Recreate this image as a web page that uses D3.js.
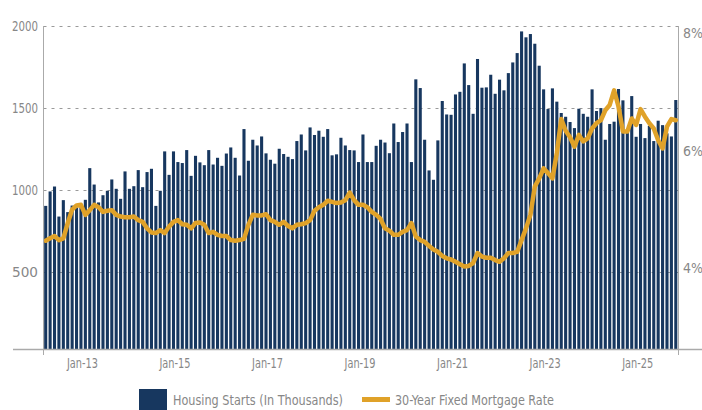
<!DOCTYPE html>
<html>
<head>
<meta charset="utf-8">
<script src="https://cdnjs.cloudflare.com/ajax/libs/d3/7.8.5/d3.min.js"></script>
<style>
    body { margin: 0; background: #fff; }
    svg text { font-family: "DejaVu Sans Condensed", "Roboto", sans-serif; fill: #878787; font-size: 14px; }
</style>
</head>
<body>
<svg id="chart" width="702" height="410"></svg>
<script>
    // housing starts, thousands (one value per bar)
    var housingStarts = [
        904, 992, 1022, 839, 939, 866, 906, 894, 896, 941, 1134, 1034, 925, 969, 996, 1065, 1008, 947, 1114, 1008, 1024, 1122, 1018, 1110,
        1130, 904, 996, 1236, 1093, 1236, 1171, 1165, 1244, 1087, 1209, 1169, 1152, 1244, 1156, 1197, 1148, 1223, 1260, 1197, 1089, 1372, 1179, 1307,
        1272, 1327, 1224, 1185, 1161, 1252, 1220, 1203, 1189, 1299, 1339, 1242, 1382, 1336, 1362, 1325, 1372, 1212, 1218, 1319, 1272, 1244, 1242, 1171,
        1339, 1171, 1171, 1270, 1307, 1290, 1225, 1406, 1293, 1354, 1406, 1171, 1675, 1622, 1307, 1120, 1063, 1303, 1543, 1461, 1459, 1583, 1599, 1772,
        1640, 1465, 1799, 1624, 1626, 1703, 1587, 1673, 1608, 1713, 1778, 1835, 1967, 1931, 1951, 1892, 1758, 1614, 1494, 1620, 1539, 1470, 1447, 1415,
        1378, 1496, 1465, 1447, 1614, 1482, 1500, 1307, 1403, 1417, 1616, 1547, 1352, 1573, 1325, 1403, 1317, 1392, 1299, 1423, 1396, 1346, 1327, 1549
    ];

    // 30-year fixed mortgage rate, % (read against the right axis)
    var mortgageRate = [
        4.47, 4.51, 4.55, 4.48, 4.51, 4.77, 5.00, 5.07, 5.08, 4.91, 4.99, 5.08, 5.04, 4.96, 4.98, 4.99, 4.91, 4.88, 4.87, 4.87, 4.88, 4.82, 4.79, 4.68,
        4.61, 4.60, 4.65, 4.60, 4.71, 4.79, 4.82, 4.75, 4.74, 4.68, 4.77, 4.78, 4.74, 4.60, 4.62, 4.57, 4.55, 4.55, 4.48, 4.47, 4.48, 4.50, 4.74, 4.91,
        4.90, 4.90, 4.92, 4.82, 4.79, 4.74, 4.79, 4.72, 4.68, 4.74, 4.75, 4.77, 4.82, 4.98, 5.04, 5.08, 5.15, 5.13, 5.11, 5.12, 5.16, 5.29, 5.16, 5.08,
        5.08, 5.04, 4.96, 4.91, 4.84, 4.68, 4.64, 4.57, 4.57, 4.62, 4.65, 4.77, 4.54, 4.48, 4.45, 4.38, 4.32, 4.28, 4.21, 4.17, 4.15, 4.11, 4.07, 4.03,
        4.04, 4.09, 4.26, 4.20, 4.18, 4.18, 4.14, 4.11, 4.17, 4.26, 4.26, 4.28, 4.48, 4.68, 4.91, 5.39, 5.53, 5.70, 5.62, 5.53, 5.96, 6.54, 6.34, 6.23,
        6.07, 6.27, 6.16, 6.21, 6.38, 6.47, 6.52, 6.69, 6.78, 7.03, 6.75, 6.33, 6.33, 6.55, 6.44, 6.71, 6.58, 6.47, 6.38, 6.18, 6.04, 6.41, 6.54, 6.52
    ];

    var tickLabels = ["Jan-13", "Jan-15", "Jan-17", "Jan-19", "Jan-21", "Jan-23", "Jan-25"];
    var tickIndex = [8, 29, 50, 71, 92, 113, 134];

    var leftTicks = [500, 1000, 1500, 2000];
    var rightTicks = [4, 6, 8];

    var legendNames = ["Housing Starts (In Thousands)", "30-Year Fixed Mortgage Rate"];

    var barColor = "#17375f";
    var lineColor = "#e0a229";
    var axisColor = "#aaaaaa";

    var plotLeft = 43.5, plotRight = 678, plotTop = 26, plotBottom = 349;

    var svg = d3.select("#chart");

    var x = d3.scaleBand()
        .domain(d3.range(housingStarts.length))
        .range([plotLeft, plotRight])
        .paddingInner(0.3)
        .paddingOuter(0.15);

    var yLeft = d3.scaleLinear().domain([32, 2000]).range([plotBottom, plotTop]);
    var yRight = d3.scaleLinear().domain([4, 8]).range([268.3, 33.3]);

    // gridlines
    svg.append("g")
        .selectAll("line")
        .data(leftTicks)
        .enter()
        .append("line")
        .attr("x1", plotLeft)
        .attr("x2", plotRight)
        .attr("y1", d => Math.round(yLeft(d)) + 0.5)
        .attr("y2", d => Math.round(yLeft(d)) + 0.5)
        .attr("stroke", "#9a9a9a")
        .attr("stroke-dasharray", "3,5");

    // bars
    svg.append("g")
        .selectAll("rect")
        .data(housingStarts)
        .enter()
        .append("rect")
        .attr("x", (d, i) => x(i))
        .attr("width", x.bandwidth())
        .attr("y", d => yLeft(d))
        .attr("height", d => plotBottom - yLeft(d))
        .attr("fill", barColor);

    // mortgage line
    var line = d3.line()
        .x((d, i) => x(i) + x.bandwidth() / 2)
        .y(d => yRight(d));

    svg.append("path")
        .datum(mortgageRate)
        .attr("d", line)
        .attr("fill", "none")
        .attr("stroke", lineColor)
        .attr("stroke-width", 4.5)
        .attr("stroke-linejoin", "round")
        .attr("stroke-linecap", "round");

    // axis lines
    svg.append("line")
        .attr("x1", 13).attr("x2", 702)
        .attr("y1", plotBottom + 0.5).attr("y2", plotBottom + 0.5)
        .attr("stroke", axisColor).attr("stroke-width", 1.5);
    svg.append("line")
        .attr("x1", plotLeft).attr("x2", plotLeft)
        .attr("y1", plotTop).attr("y2", plotBottom + 6)
        .attr("stroke", axisColor);
    svg.append("line")
        .attr("x1", plotRight + 0.5).attr("x2", plotRight + 0.5)
        .attr("y1", plotTop).attr("y2", plotBottom + 6)
        .attr("stroke", axisColor);

    // left axis labels
    svg.append("g")
        .selectAll("text")
        .data(leftTicks)
        .enter()
        .append("text")
        .attr("x", 38)
        .attr("y", d => yLeft(d))
        .attr("dy", "0.35em")
        .attr("text-anchor", "end")
        .attr("textLength", 26)
        .attr("lengthAdjust", "spacingAndGlyphs")
        .text(d => d);

    // right axis labels
    svg.append("g")
        .selectAll("text")
        .data(rightTicks)
        .enter()
        .append("text")
        .attr("x", 683)
        .attr("y", d => yRight(d))
        .attr("dy", "0.35em")
        .text(d => d + "%");

    // x labels
    svg.append("g")
        .selectAll("text")
        .data(tickIndex)
        .enter()
        .append("text")
        .attr("x", d => x(d) + x.bandwidth() / 2 + 1.5)
        .attr("y", 368)
        .attr("text-anchor", "middle")
        .attr("textLength", 31)
        .attr("lengthAdjust", "spacingAndGlyphs")
        .text((d, i) => tickLabels[i]);

    // legend
    var legend = svg.append("g");
    legend.append("rect")
        .attr("x", 139).attr("y", 389)
        .attr("width", 28).attr("height", 21)
        .attr("fill", barColor);
    legend.append("text")
        .attr("x", 173).attr("y", 405)
        .attr("textLength", 170)
        .attr("lengthAdjust", "spacingAndGlyphs")
        .text(legendNames[0]);
    legend.append("line")
        .attr("x1", 362).attr("x2", 390)
        .attr("y1", 399.5).attr("y2", 399.5)
        .attr("stroke", lineColor).attr("stroke-width", 5);
    legend.append("text")
        .attr("x", 395).attr("y", 405)
        .attr("textLength", 159)
        .attr("lengthAdjust", "spacingAndGlyphs")
        .text(legendNames[1]);
</script>
</body>
</html>
